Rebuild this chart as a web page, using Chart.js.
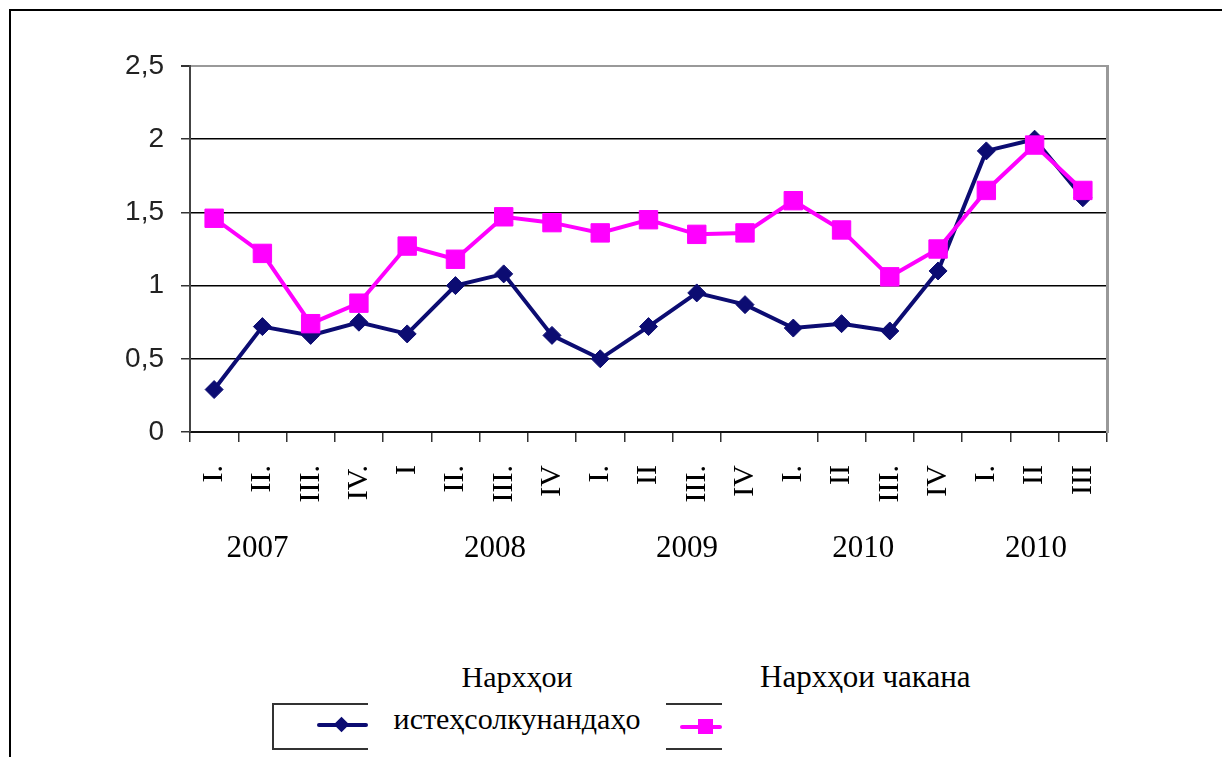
<!DOCTYPE html>
<html>
<head>
<meta charset="utf-8">
<script src="https://cdn.jsdelivr.net/npm/chart.js@4.4.1/dist/chart.umd.min.js"></script>
<style>
  html, body { margin: 0; padding: 0; background: #fff; overflow: hidden; width: 1222px; height: 757px; }
  #frame { position: absolute; left: 9px; top: 9px; width: 1400px; height: 900px; border-left: 2px solid #000; border-top: 2px solid #000; }
  #wrap { position: absolute; left: 0; top: 0; width: 1222px; height: 757px; }
  .lgbox { position: absolute; left: 272px; top: 703px; width: 740px; height: 43px; border: 2px solid #333; border-right: none; }
  .lgtext { position: absolute; background: #fff; font-family: "Liberation Serif", serif; font-size: 30px; color: #000; line-height: 42px; }
  .lgline { position: absolute; height: 4px; border-radius: 2px; }
  .lgmark { position: absolute; }
</style>
</head>
<body>
<div id="frame"></div>
<div id="wrap"><canvas id="c" width="1222" height="757"></canvas></div>

<div class="lgbox"></div>
<div class="lgtext" id="lg1" style="left:368px; top:656px; width:298px; height:101px; text-align:center;">Нархҳои<br>истеҳсолкунандаҳо</div>
<div class="lgtext" id="lg2" style="left:722px; top:656px; width:300px; height:101px; padding-left:38px; box-sizing:border-box; font-size:31px;">Нархҳои чакана</div>
<div class="lgline" style="left:317px; top:723px; width:51px; background:#0c0c72;"></div>
<div class="lgmark" style="left:336px; top:719px; width:11px; height:11px; background:#0c0c72; transform:rotate(45deg);"></div>
<div class="lgline" style="left:680px; top:725px; width:42px; background:#ff00ff;"></div>
<div class="lgmark" style="left:698px; top:719px; width:15px; height:15px; background:#ff00ff;"></div>

<script>
// ---- data ----
const quarterLabels = ["I.", "II.", "III.", "IV.", "I", "II.", "III.", "IV", "I.", "II", "III.", "IV", "I.", "II", "III.", "IV", "I.", "II", "III"];
const producerPrices = [0.29, 0.72, 0.66, 0.75, 0.67, 1.00, 1.08, 0.66, 0.50, 0.72, 0.95, 0.87, 0.71, 0.74, 0.69, 1.10, 1.92, 2.00, 1.60];
const retailPrices   = [1.46, 1.22, 0.74, 0.88, 1.27, 1.18, 1.47, 1.43, 1.36, 1.45, 1.35, 1.36, 1.58, 1.38, 1.06, 1.25, 1.65, 1.96, 1.65];
const yearLabels = ["2007", "2008", "2009", "2010", "2010"];
const yearAt = [0.9, 5.82, 9.8, 13.45, 17.03];   // category index under which each year label sits
const yTicks = [0, 0.5, 1, 1.5, 2, 2.5];

const navy = "#0c0c72";
const magenta = "#ff00ff";

new Chart(document.getElementById("c"), {
  type: "line",
  data: {
    labels: quarterLabels,
    datasets: [
      {
        label: "Нархҳои истеҳсолкунандаҳо",
        data: producerPrices,
        borderColor: navy,
        backgroundColor: navy,
        borderWidth: 4,
        pointStyle: "rectRot",
        pointRadius: 9,
        pointBorderWidth: 1,
        tension: 0,
        order: 1,
        xAxisID: "x",
        yAxisID: "y"
      },
      {
        label: "Нархҳои чакана",
        data: retailPrices,
        borderColor: magenta,
        backgroundColor: magenta,
        borderWidth: 4,
        pointStyle: "rect",
        pointRadius: 13,
        pointBorderWidth: 1,
        tension: 0,
        order: 0,
        xAxisID: "x",
        yAxisID: "y"
      }
    ]
  },
  options: {
    responsive: false,
    animation: false,
    layout: { padding: { top: 66, right: 115, bottom: 167, left: 0 } },
    plugins: {
      legend: { display: false },
      title: { display: false },
      tooltip: { enabled: false }
    },
    scales: {
      x: {
        type: "category",
        position: "bottom",
        offset: true,
        grid: {
          offset: true,
          drawOnChartArea: false,
          drawTicks: true,
          tickLength: 10,
          color: (ctx) => ctx.index === 12 ? "rgba(0,0,0,0)" : "#333",
          tickColor: (ctx) => ctx.index === 12 ? "rgba(0,0,0,0)" : "#333",
          lineWidth: 1.5
        },
        border: { display: true, color: "#111", width: 2 },
        ticks: {
          autoSkip: false,
          minRotation: 90,
          maxRotation: 90,
          padding: 23,
          color: "#000",
          font: { family: "Liberation Serif", size: 30 }
        },
        afterFit: (s) => { s.height = 98; }
      },
      x2: {
        type: "linear",
        position: "bottom",
        min: -0.5,
        max: quarterLabels.length - 0.5,
        grid: { display: false, drawTicks: false },
        border: { display: false },
        afterBuildTicks: (s) => { s.ticks = yearAt.map(v => ({ value: v })); },
        ticks: {
          autoSkip: false,
          maxRotation: 0,
          minRotation: 0,
          padding: 0,
          color: "#000",
          font: { family: "Liberation Serif", size: 31 },
          callback: (v, i) => yearLabels[i]
        },
        afterFit: (s) => { s.height = 60; }
      },
      y: {
        type: "linear",
        position: "left",
        min: 0,
        max: 2.5,
        afterBuildTicks: (s) => { s.ticks = yTicks.map(v => ({ value: v })); },
        grid: {
          color: (ctx) => (ctx.tick && ctx.tick.value === 2.5) ? "#999" : "#000",
          lineWidth: (ctx) => (ctx.tick && ctx.tick.value === 2.5) ? 2 : 1.5,
          tickColor: "#333",
          tickLength: 9
        },
        border: { display: true, color: "#444", width: 2 },
        ticks: {
          padding: 17,
          color: "#222",
          font: { family: "Liberation Sans", size: 28 },
          callback: (v) => String(v).replace(".", ",")
        },
        afterFit: (s) => { s.width = 190; }
      },
      y2: {
        type: "linear",
        position: "right",
        min: 0,
        max: 2.5,
        grid: { display: false, drawTicks: false },
        border: { display: true, color: "#999", width: 3 },
        ticks: { display: false },
        afterFit: (s) => { s.width = 0; }
      }
    }
  }
});
</script>
</body>
</html>
